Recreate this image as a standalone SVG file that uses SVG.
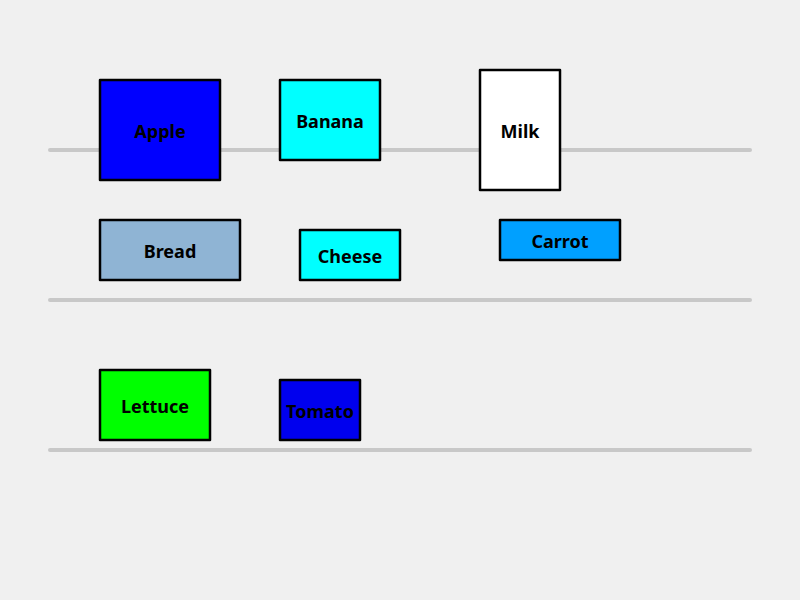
<svg xmlns="http://www.w3.org/2000/svg" width="800" height="600" viewBox="0 0 800 600">
<style>
.shelf{stroke:#c8c8c8;stroke-width:4;stroke-linecap:round}
.item{stroke:#000;stroke-width:2.5;stroke-linejoin:round}
.lbl{font-family:"Noto Sans","DejaVu Sans",sans-serif;font-size:18px;fill:#000;text-anchor:middle;dominant-baseline:central;font-weight:bold}
</style>
<rect width="800" height="600" fill="#f0f0f0"/>
<g id="shelves">
<line class="shelf" x1="50" y1="150" x2="750" y2="150"/>
<line class="shelf" x1="50" y1="300" x2="750" y2="300"/>
<line class="shelf" x1="50" y1="450" x2="750" y2="450"/>
</g>
<g id="apple"><rect class="item" x="100" y="80" width="120" height="100" fill="#0000ff"/><text class="lbl" x="160" y="131">Apple</text></g>
<g id="banana"><rect class="item" x="280" y="80" width="100" height="80" fill="#00ffff"/><text class="lbl" x="330" y="121">Banana</text></g>
<g id="milk"><rect class="item" x="480" y="70" width="80" height="120" fill="#ffffff"/><text class="lbl" x="520" y="131">Milk</text></g>
<g id="bread"><rect class="item" x="100" y="220" width="140" height="60" fill="#8fb4d4"/><text class="lbl" x="170" y="251">Bread</text></g>
<g id="cheese"><rect class="item" x="300" y="230" width="100" height="50" fill="#00ffff"/><text class="lbl" x="350" y="256">Cheese</text></g>
<g id="carrot"><rect class="item" x="500" y="220" width="120" height="40" fill="#00a0ff"/><text class="lbl" x="560" y="241">Carrot</text></g>
<g id="lettuce"><rect class="item" x="100" y="370" width="110" height="70" fill="#00ff00"/><text class="lbl" x="155" y="406">Lettuce</text></g>
<g id="tomato"><rect class="item" x="280" y="380" width="80" height="60" fill="#0000ee"/><text class="lbl" x="320" y="411">Tomato</text></g>
</svg>
